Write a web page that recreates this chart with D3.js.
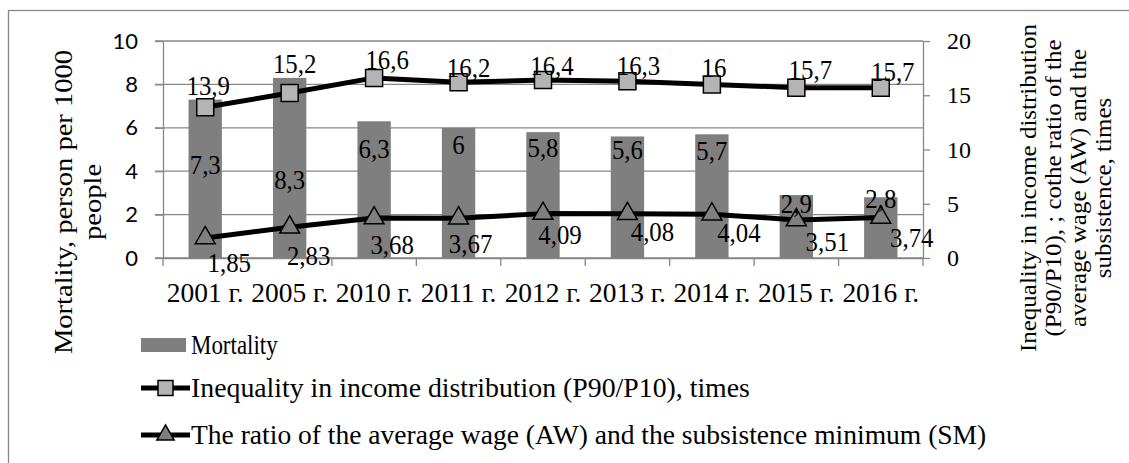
<!DOCTYPE html>
<html>
<head>
<meta charset="utf-8">
<script src="https://cdn.jsdelivr.net/npm/d3@7"></script>
<style>
  body { margin: 0; background: #fff; }
  svg { display: block; }
</style>
</head>
<body>
<div id="chart"></div>
<script>
// chart data
const categories = ["2001 г.", "2005 г.", "2010 г.", "2011 г.", "2012 г.", "2013 г.", "2014 г.", "2015 г.", "2016 г."];
const mortality = [7.3, 8.3, 6.3, 6, 5.8, 5.6, 5.7, 2.9, 2.8];
const inequality = [13.9, 15.2, 16.6, 16.2, 16.4, 16.3, 16, 15.7, 15.7];
const wageRatio = [1.85, 2.83, 3.68, 3.67, 4.09, 4.08, 4.04, 3.51, 3.74];
const leftTicks = [0, 2, 4, 6, 8, 10];
const rightTicks = [0, 5, 10, 15, 20];

const seriesNames = [
  "Mortality",
  "Inequality in income distribution (P90/P10), times",
  "The ratio of the average wage (AW) and the subsistence minimum (SM)"
];
const leftTitle = ["Mortality, person per 1000", "people"];
const rightTitle = [
  "Inequality in income distribution",
  "(P90/P10), ; cothe ratio of the",
  "average wage (AW) and the",
  "subsistence, times"
];

// label nudges (px), the labels were hand-placed in the original
const barLabelDy = [65, 102, 27, 17, 15, 13, 16, 8, 1];
const ineqLabelDx = [3, 5, 13, 10, 9, 11, 2, 14, 12];
const ineqLabelDy = [-22, -30, -18, -15, -15, -16, -17, -18, -16];
const ratioLabelDx = [24, 19, 18, 12, 17, 25, 27, 31, 31];
const ratioLabelDy = [25, 28, 26, 25, 21, 18, 18, 22, 20];
const legendSqueeze = [0.85, 1.03, 1.02];

const W = 1129, H = 463;
const plot = { left: 163, right: 923, top: 41, bottom: 258 };
const gridColor = "#878787";
const barColor = "#7f7f7f";
const squareFill = "#b4b4b4";
const serif = '"Liberation Serif", "Times New Roman", serif';
const sans = 'Lato, "Liberation Sans", sans-serif';

const fmt = v => String(v).replace(".", ",");

const svg = d3.select("#chart")
  .append("svg")
  .attr("width", W)
  .attr("height", H);

// outer frame
svg.append("rect")
  .attr("x", 8.5)
  .attr("y", 10.5)
  .attr("width", 1140)
  .attr("height", 470)
  .attr("fill", "none")
  .attr("stroke", gridColor)
  .attr("stroke-width", 1.3);

// scales
const x = d3.scaleBand()
  .domain(categories)
  .range([plot.left, plot.right])
  .paddingInner(0.605)
  .paddingOuter(0.3025);

const yL = d3.scaleLinear().domain([0, 10]).range([plot.bottom, plot.top]);
const yR = d3.scaleLinear().domain([0, 20]).range([plot.bottom, plot.top]);
const cx = d => x(d) + x.bandwidth() / 2;

// gridlines
svg.append("g")
  .selectAll("line")
  .data(leftTicks)
  .join("line")
  .attr("x1", plot.left - 8)
  .attr("x2", plot.right)
  .attr("y1", d => yL(d))
  .attr("y2", d => yL(d))
  .attr("stroke", gridColor)
  .attr("stroke-width", 1.3);

// left axis
const gL = svg.append("g")
  .attr("transform", `translate(${plot.left},0)`)
  .call(d3.axisLeft(yL).tickValues(leftTicks).tickSize(8).tickSizeOuter(0).tickPadding(17));
gL.selectAll("path, line").attr("stroke", gridColor).attr("stroke-width", 1.3);
gL.selectAll("text")
  .style("font-family", sans)
  .style("font-size", "22px")
  .attr("fill", "#000");

// right axis
const gR = svg.append("g")
  .attr("transform", `translate(${plot.right},0)`)
  .call(d3.axisRight(yR).tickValues(rightTicks).tickSize(7).tickSizeOuter(0).tickPadding(17));
gR.selectAll("path, line").attr("stroke", gridColor).attr("stroke-width", 1.3);
gR.selectAll("text")
  .style("font-family", serif)
  .style("font-size", "24px")
  .attr("fill", "#000");

// bottom axis, labels only; the ticks sit between categories
const gB = svg.append("g")
  .attr("transform", `translate(0,${plot.bottom})`)
  .call(d3.axisBottom(x).tickSize(0).tickSizeOuter(0));
gB.select(".domain").attr("stroke", gridColor).attr("stroke-width", 1.3);
gB.selectAll("text")
  .style("font-family", serif)
  .style("font-size", "28px")
  .attr("fill", "#000")
  .attr("y", 0)
  .attr("dy", 0)
  .attr("transform", "translate(0,44) scale(0.98,1)");

const bounds = categories.map(d => x(d) - x.step() * x.paddingInner() / 2);
bounds.push(plot.right);
gB.selectAll(".bound")
  .data(bounds)
  .join("line")
  .attr("class", "bound")
  .attr("x1", d => d)
  .attr("x2", d => d)
  .attr("y1", 0)
  .attr("y2", 8)
  .attr("stroke", gridColor)
  .attr("stroke-width", 1.3);

// bars
svg.append("g")
  .selectAll("rect")
  .data(mortality)
  .join("rect")
  .attr("x", (d, i) => x(categories[i]))
  .attr("y", d => yL(d))
  .attr("width", x.bandwidth())
  .attr("height", d => yL(0) - yL(d))
  .attr("fill", barColor);

// lines
const line = yScale => d3.line()
  .x((d, i) => cx(categories[i]))
  .y(d => yScale(d));

[inequality, wageRatio].forEach(values => {
  svg.append("path")
    .datum(values)
    .attr("d", line(yR))
    .attr("fill", "none")
    .attr("stroke", "#000")
    .attr("stroke-width", 5)
    .attr("stroke-linejoin", "round");
});

const square = d3.symbol(d3.symbolSquare, 17 * 17);
const triangle = d3.symbol(d3.symbolTriangle, 170);

svg.append("g")
  .selectAll("path")
  .data(inequality)
  .join("path")
  .attr("d", square)
  .attr("transform", (d, i) => `translate(${cx(categories[i])},${yR(d)})`)
  .attr("fill", squareFill)
  .attr("stroke", "#000")
  .attr("stroke-width", 1.5);

svg.append("g")
  .selectAll("path")
  .data(wageRatio)
  .join("path")
  .attr("d", triangle)
  .attr("transform", (d, i) => `translate(${cx(categories[i])},${yR(d)})`)
  .attr("fill", barColor)
  .attr("stroke", "#000")
  .attr("stroke-width", 1.5);

// serif text helper, with a horizontal squeeze
const addText = (g, px, py, str, size, anchor, scaleX) =>
  g.append("text")
    .attr("transform", `translate(${px},${py}) scale(${scaleX},1)`)
    .attr("text-anchor", anchor)
    .attr("dy", "0.35em")
    .attr("fill", "#000")
    .style("font-family", serif)
    .style("font-size", size + "px")
    .text(str);

// data labels
const labels = svg.append("g");
mortality.forEach((v, i) => {
  addText(labels, cx(categories[i]), yL(v) + barLabelDy[i], fmt(v), 27, "middle", 0.92);
});
inequality.forEach((v, i) => {
  addText(labels, cx(categories[i]) + ineqLabelDx[i], yR(v) + ineqLabelDy[i], fmt(v), 27, "middle", 0.92);
});
wageRatio.forEach((v, i) => {
  addText(labels, cx(categories[i]) + ratioLabelDx[i], yR(v) + ratioLabelDy[i], fmt(v), 27, "middle", 0.92);
});

// axis titles
leftTitle.forEach((t, i) => {
  svg.append("text")
    .attr("transform", `translate(${63 + i * 29},202) rotate(-90) scale(1.02,0.9)`)
    .attr("text-anchor", "middle")
    .attr("dy", "0.35em")
    .attr("fill", "#000")
    .style("font-family", serif)
    .style("font-size", "28px")
    .text(t);
});
rightTitle.forEach((t, i) => {
  svg.append("text")
    .attr("transform", `translate(${1028 + i * 25},188) rotate(-90) scale(1,0.9)`)
    .attr("text-anchor", "middle")
    .attr("dy", "0.35em")
    .attr("fill", "#000")
    .style("font-family", serif)
    .style("font-size", "25px")
    .text(t);
});

// legend
const legend = svg.append("g");
const rowY = [345, 388, 435];

legend.append("rect")
  .attr("x", 141)
  .attr("y", rowY[0] - 7)
  .attr("width", 45)
  .attr("height", 14)
  .attr("fill", barColor);

[1, 2].forEach(k => {
  legend.append("line")
    .attr("x1", 141)
    .attr("x2", 190)
    .attr("y1", rowY[k])
    .attr("y2", rowY[k])
    .attr("stroke", "#000")
    .attr("stroke-width", 5);
  legend.append("path")
    .attr("d", k === 1 ? d3.symbol(d3.symbolSquare, 15 * 15)() : d3.symbol(d3.symbolTriangle, 130)())
    .attr("transform", `translate(165.5,${rowY[k]})`)
    .attr("fill", k === 1 ? squareFill : barColor)
    .attr("stroke", "#000")
    .attr("stroke-width", 1.5);
});

seriesNames.forEach((name, i) => {
  addText(legend, 191, rowY[i], name, 27, "start", legendSqueeze[i]);
});
</script>
</body>
</html>
